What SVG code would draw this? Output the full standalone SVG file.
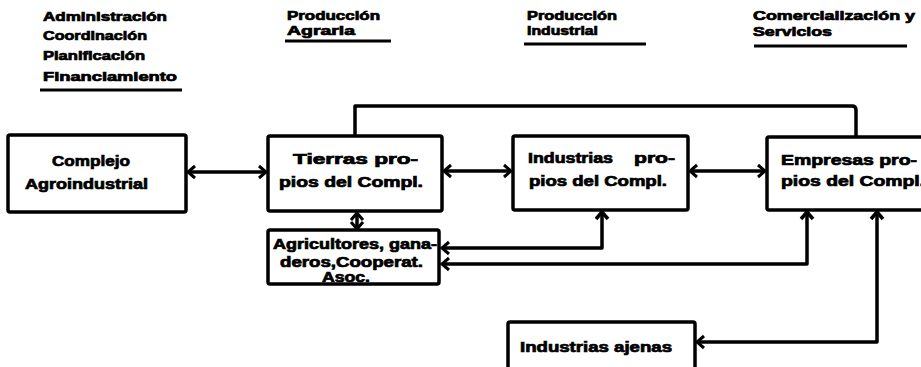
<svg xmlns="http://www.w3.org/2000/svg" width="921" height="367" viewBox="0 0 921 367">
<defs>
<style>
.hd{font-family:"Liberation Sans",Arial,sans-serif;font-weight:bold;font-size:12px;fill:#000;stroke:#000;stroke-width:0.7}
.bx{font-family:"Liberation Sans",Arial,sans-serif;font-weight:bold;font-size:14px;fill:#000;stroke:#000;stroke-width:0.7}
.box{fill:#fff;stroke:#000;stroke-width:3.5}
.ul{stroke:#000;stroke-width:3;fill:none}
.cn{stroke:#000;stroke-width:3.5;fill:none;stroke-linejoin:round}
.ar{marker-end:url(#ah)}
.ar2{marker-start:url(#ah);marker-end:url(#ah)}
</style>
<marker id="ah" markerUnits="userSpaceOnUse" viewBox="-10 -8 12 16" refX="0" refY="0" markerWidth="12" markerHeight="16" orient="auto-start-reverse">
<path d="M-7,-6 L0,0 L-7,6" fill="none" stroke="#000" stroke-width="3" stroke-linejoin="miter"/>
</marker>
</defs>
<rect width="921" height="367" fill="#fff"/>

<g id="headers">
<g id="h-admin">
<text class="hd" x="43" y="21" textLength="124" lengthAdjust="spacingAndGlyphs">Administración</text>
<text class="hd" x="43" y="40" textLength="104" lengthAdjust="spacingAndGlyphs">Coordinación</text>
<text class="hd" x="43" y="60" textLength="102" lengthAdjust="spacingAndGlyphs">Planificación</text>
<text class="hd" x="43" y="81" textLength="134" lengthAdjust="spacingAndGlyphs">Financiamiento</text>
<line class="ul" x1="40" y1="90" x2="182" y2="90"/>
</g>
<g id="h-agraria">
<text class="hd" x="287" y="20" textLength="93" lengthAdjust="spacingAndGlyphs">Producción</text>
<text class="hd" x="287" y="35" textLength="68" lengthAdjust="spacingAndGlyphs">Agraria</text>
<line class="ul" x1="285" y1="41" x2="391" y2="41"/>
</g>
<g id="h-industrial">
<text class="hd" x="527" y="20" textLength="90" lengthAdjust="spacingAndGlyphs">Producción</text>
<text class="hd" x="527" y="35" textLength="71" lengthAdjust="spacingAndGlyphs">Industrial</text>
<line class="ul" x1="524" y1="44" x2="646" y2="44"/>
</g>
<g id="h-comercial">
<text class="hd" x="753" y="20" textLength="162" lengthAdjust="spacingAndGlyphs">Comercialización y</text>
<text class="hd" x="753" y="36" textLength="79" lengthAdjust="spacingAndGlyphs">Servicios</text>
<line class="ul" x1="754" y1="46" x2="907" y2="46"/>
</g>
</g>

<g id="connectors">
<line class="cn ar2" x1="188" y1="172" x2="266" y2="172"/>
<line class="cn ar2" x1="444" y1="171" x2="511" y2="171"/>
<line class="cn ar2" x1="690" y1="171" x2="765" y2="171"/>
<path class="cn" d="M355,136 V106 H852 Q856,106 856,110 V137"/>
<line class="cn ar2" x1="357" y1="213" x2="357" y2="229"/>
<path class="cn ar" d="M602,213 V248 H442"/>
<path class="cn ar" d="M807,213 V264 H442"/>
<path class="cn ar" d="M877,213 V342 H697"/>
<path class="cn" d="M596,219 L602,212 L608,219"/>
<path class="cn" d="M801,219 L807,212 L813,219"/>
<path class="cn" d="M871,219 L877,212 L883,219"/>
</g>

<g id="n-complejo">
<rect class="box" x="8" y="135" width="178" height="77" rx="2"/>
<text class="bx" x="52" y="166" textLength="78" lengthAdjust="spacingAndGlyphs">Complejo</text>
<text class="bx" x="25" y="189" textLength="123" lengthAdjust="spacingAndGlyphs">Agroindustrial</text>
</g>
<g id="n-tierras">
<rect class="box" x="268" y="136" width="174" height="75" rx="2"/>
<text class="bx" x="293" y="164" textLength="125" lengthAdjust="spacingAndGlyphs">Tierras pro-</text>
<text class="bx" x="279" y="187" textLength="144" lengthAdjust="spacingAndGlyphs">pios del Compl.</text>
</g>
<g id="n-industrias">
<rect class="box" x="513" y="136" width="175" height="74" rx="2"/>
<text class="bx" x="528" y="163"><tspan textLength="85" lengthAdjust="spacingAndGlyphs">Industrias</tspan> <tspan x="634" textLength="41" lengthAdjust="spacingAndGlyphs">pro-</tspan></text>
<text class="bx" x="529" y="186" textLength="138" lengthAdjust="spacingAndGlyphs">pios del Compl.</text>
</g>
<g id="n-empresas">
<rect class="box" x="767" y="137" width="180" height="73" rx="2"/>
<text class="bx" x="781" y="165" textLength="136" lengthAdjust="spacingAndGlyphs">Empresas pro-</text>
<text class="bx" x="781" y="186" textLength="144" lengthAdjust="spacingAndGlyphs">pios del Compl.</text>
</g>
<g id="n-agricultores">
<rect class="box" x="268" y="230" width="171" height="54" rx="2"/>
<text class="bx" x="273" y="249" textLength="164" lengthAdjust="spacingAndGlyphs">Agricultores, gana-</text>
<text class="bx" x="280" y="267" textLength="143" lengthAdjust="spacingAndGlyphs">deros,Cooperat.</text>
<text class="bx" x="322" y="282" textLength="48" lengthAdjust="spacingAndGlyphs">Asoc.</text>
</g>
<g id="n-ajenas">
<rect class="box" x="508" y="322" width="187" height="52" rx="2"/>
<text class="bx" x="520" y="352" textLength="152" lengthAdjust="spacingAndGlyphs">Industrias ajenas</text>
</g>
</svg>
